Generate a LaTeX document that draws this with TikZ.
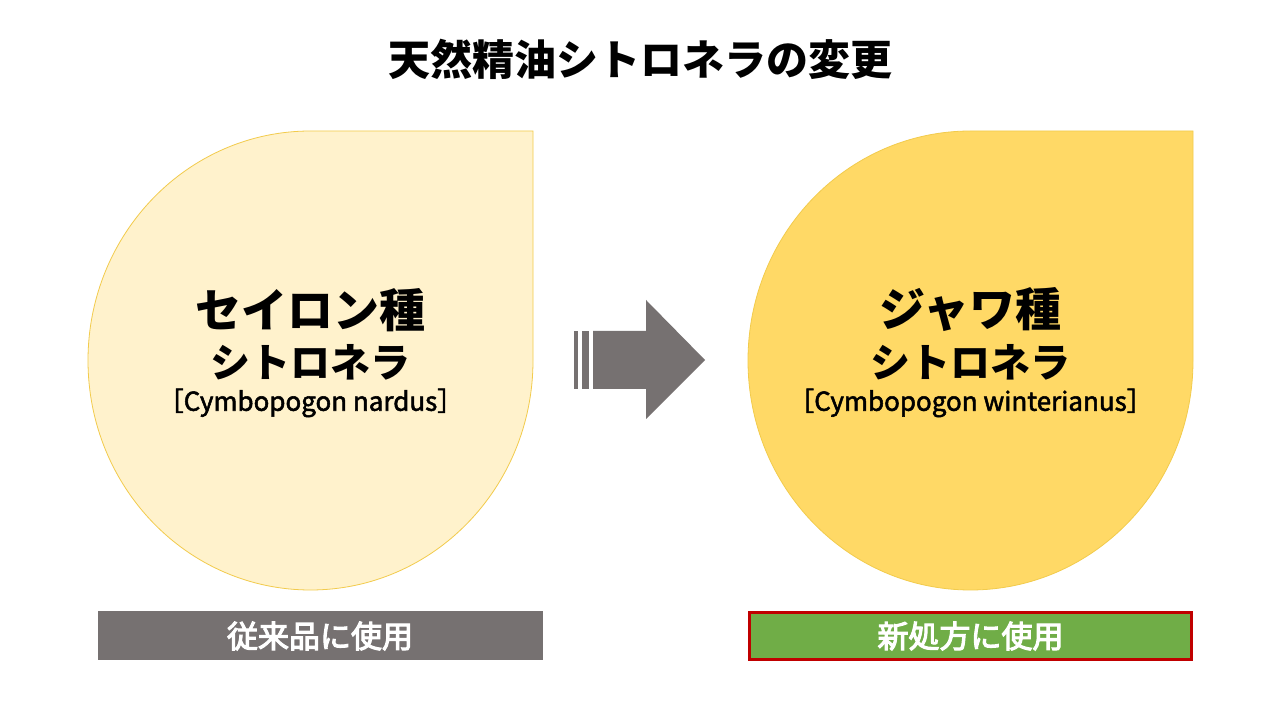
\documentclass[tikz,border=0pt]{standalone}
\usepackage{fontspec}
\setmainfont{Noto Sans CJK JP}
\newfontfamily\medfont{Noto Sans CJK JP}[FakeBold=2]
\newfontfamily\labelfont{Noto Sans CJK JP}[FakeBold=3.5]
\usepackage{tikz}
\usetikzlibrary{positioning,calc}
\definecolor{DropLight}{HTML}{FFF2CC}
\definecolor{DropGold}{HTML}{FFD966}
\definecolor{DropEdge}{HTML}{F2CB4C}
\definecolor{ArrowGray}{HTML}{767171}
\definecolor{UseGreen}{HTML}{70AD47}
\definecolor{UseRed}{HTML}{C00000}

\tikzset{
  namebig/.style={font=\bfseries\fontsize{46}{50}\selectfont},
  namemid/.style={font=\bfseries\fontsize{40}{44}\selectfont},
  namelatin/.style={font=\medfont\fontsize{26}{30}\selectfont},
  usebox/.style={minimum width=445pt,minimum height=49pt,inner sep=0pt,
    text=white,font=\labelfont\fontsize{31}{35}\selectfont}
}

\begin{document}
\begin{tikzpicture}[x=1pt,y=1pt]
  \useasboundingbox (0,0) rectangle (1280,720);
  \fill[white] (0,0) rectangle (1280,720);
  % title
  \node[font=\bfseries\fontsize{42}{48}\selectfont] (title) at (640,661) {天然精油シトロネラの変更};
  % drops
  \draw[DropEdge,fill=DropLight,line width=.8pt] (310.5,589) -- (533,589) -- (533,359.5)
    arc[start angle=0,end angle=-270,x radius=222.5,y radius=229.5] -- cycle;
  \draw[DropEdge,fill=DropGold,line width=.8pt] (970.5,589) -- (1193,589) -- (1193,359.5)
    arc[start angle=0,end angle=-270,x radius=222.5,y radius=229.5] -- cycle;
  \node[namebig] (ceylon) at (310.5,410) {セイロン種};
  \node[namemid] (ceylonB) at (310.5,358) {シトロネラ};
  \node[namelatin] (ceylonC) at (310.5,317) {［Cymbopogon nardus］};
  \node[namebig] (java) at (970.5,410) {ジャワ種};
  \node[namemid] (javaB) at (970.5,358) {シトロネラ};
  \node[namelatin] (javaC) at (970.5,317) {［Cymbopogon winterianus］};
  % arrow
  \fill[ArrowGray] (574,331) rectangle (578,389);
  \fill[ArrowGray] (582,331) rectangle (589,389);
  \fill[ArrowGray] (593,331) -- (646,331) -- (646,301) -- (705,360) -- (646,420)
    -- (646,389) -- (593,389) -- cycle;
  % labels
  \node[usebox,fill=ArrowGray] (oldUse) at (320,84) {従来品に使用};
  \node[usebox,fill=UseGreen,draw=UseRed,line width=2.6pt,minimum width=442.5pt,minimum height=46.5pt]
    (newUse) at (970.5,84) {新処方に使用};
\end{tikzpicture}
\end{document}
